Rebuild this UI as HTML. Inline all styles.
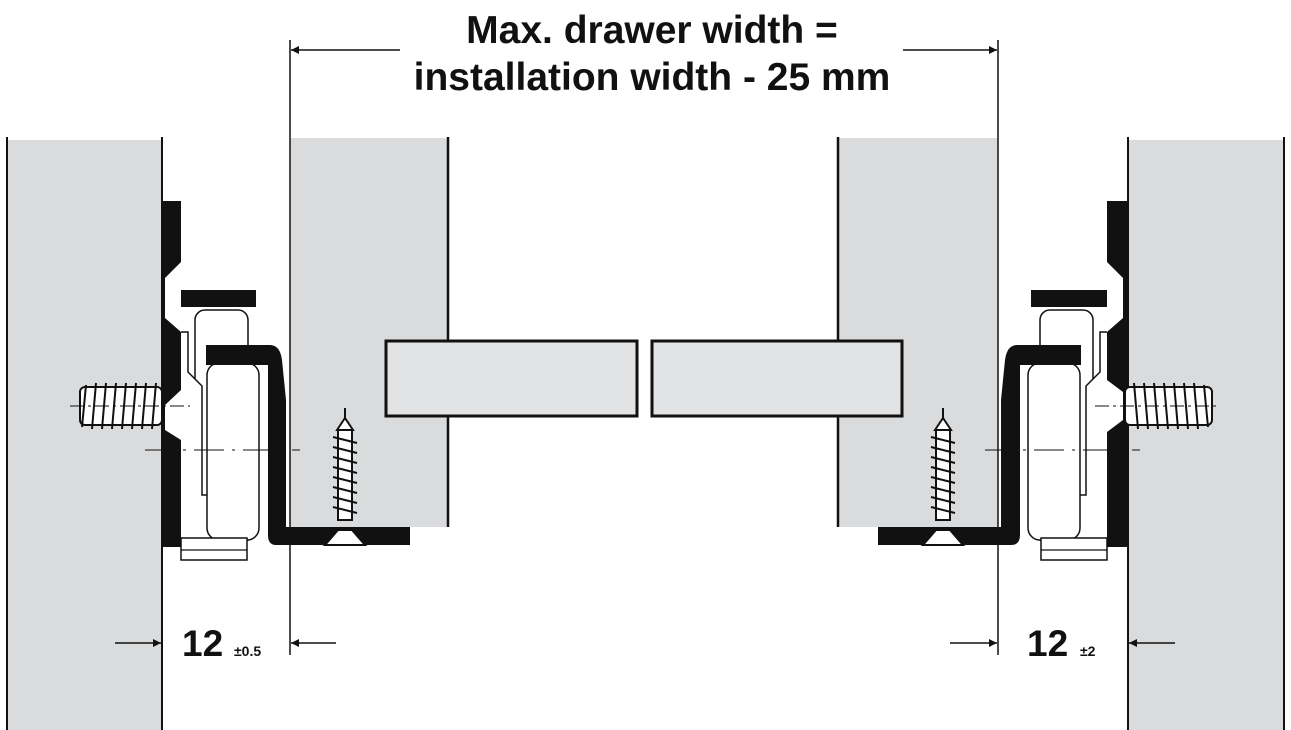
<!DOCTYPE html>
<html><head><meta charset="utf-8"><style>
html,body{margin:0;padding:0;background:#fff;width:1291px;height:730px;overflow:hidden}
svg{display:block}
text{font-family:"Liberation Sans",Arial,sans-serif;font-weight:bold;fill:#111}
</style></head><body>
<svg width="1291" height="730" viewBox="0 0 1291 730" xmlns="http://www.w3.org/2000/svg">
<defs>
<marker id="ar" viewBox="0 0 10 10" refX="10" refY="5" markerWidth="16" markerHeight="8" orient="auto" markerUnits="userSpaceOnUse"><path d="M0,0 L10,5 L0,10z" fill="#111"/></marker>
</defs>
<rect x="7" y="140" width="155" height="590" fill="#dadbdd"/>
<line x1="7" y1="137" x2="7" y2="730" stroke="#111" stroke-width="2"/>
<line x1="162" y1="137" x2="162" y2="730" stroke="#111" stroke-width="2"/>
<rect x="1128" y="140" width="156" height="590" fill="#dadbdd"/>
<line x1="1128" y1="137" x2="1128" y2="730" stroke="#111" stroke-width="2"/>
<line x1="1284" y1="137" x2="1284" y2="730" stroke="#111" stroke-width="2"/>
<rect x="290" y="138" width="158" height="389" fill="#dadbdd"/>
<rect x="838" y="138" width="160" height="389" fill="#dadbdd"/>
<line x1="290" y1="40" x2="290" y2="655" stroke="#111" stroke-width="1.5"/>
<line x1="448" y1="137" x2="448" y2="527" stroke="#111" stroke-width="2.5"/>
<line x1="838" y1="137" x2="838" y2="527" stroke="#111" stroke-width="2.5"/>
<line x1="998" y1="40" x2="998" y2="655" stroke="#111" stroke-width="1.5"/>
<rect x="386" y="341" width="251" height="75" fill="#e2e3e5" stroke="#111" stroke-width="3"/>
<rect x="652" y="341" width="250" height="75" fill="#e2e3e5" stroke="#111" stroke-width="3"/>
<!-- left hardware -->
<path d="M162,201 H181 V262 L165,278 V318 L181,332 V390 L165,405 V430 L181,440 V547 H162 Z" fill="#111"/>
<rect x="181" y="290" width="75" height="17" fill="#111"/>
<rect x="195" y="310" width="53" height="210" rx="10" fill="#fff" stroke="#111" stroke-width="1.5"/>
<path d="M181,332 H188 V372 L202,386 V495 H240 Q248,495 248,505 V540 H181" fill="#fff" stroke="#111" stroke-width="1.5"/>
<rect x="207" y="363" width="52" height="177" rx="12" fill="#fff" stroke="#111" stroke-width="1.5"/>
<rect x="181" y="538" width="66" height="22" fill="#fff" stroke="#111" stroke-width="1.5"/>
<line x1="181" y1="550" x2="247" y2="550" stroke="#111" stroke-width="1.2"/>
<path d="M206,345 H270 Q280,345 282,360 L286,400 V527 H410 V545 H276 Q268,545 268,535 V365 H206 Z" fill="#111"/>
<g stroke="#111" stroke-width="2" fill="#fff">
<rect x="80" y="387" width="82" height="38" rx="5"/>
<path d="M86,385 l-4,42 M96,383 l-4,46 M106,383 l-4,46 M116,383 l-4,46 M126,383 l-4,46 M136,383 l-4,46 M146,383 l-4,46 M156,383 l-4,46"/>
</g>
<line x1="70" y1="406" x2="190" y2="406" stroke="#111" stroke-width="1" stroke-dasharray="14,4,3,4"/>
<line x1="145" y1="450" x2="300" y2="450" stroke="#111" stroke-width="1" stroke-dasharray="30,8,3,8"/>
<g stroke="#111" stroke-width="2" fill="#fff">
<line x1="345" y1="408" x2="345" y2="430"/>
<path d="M337,430 L345,418 L353,430 Z"/>
<rect x="338" y="430" width="14" height="90"/>
<path d="M333,437 l24,6 M333,447 l24,6 M333,457 l24,6 M333,467 l24,6 M333,477 l24,6 M333,487 l24,6 M333,497 l24,6 M333,507 l24,6"/>
<path d="M325,545 L338,530 H352 L365,545 Z"/>
</g>
<!-- right hardware -->
<path d="M1128,201 H1107 V262 L1123,278 V318 L1107,332 V380 L1123,392 V420 L1107,432 V547 H1128 Z" fill="#111"/>
<rect x="1031" y="290" width="76" height="17" fill="#111"/>
<rect x="1040" y="310" width="53" height="210" rx="10" fill="#fff" stroke="#111" stroke-width="1.5"/>
<path d="M1107,332 H1100 V372 L1086,386 V495 H1048 Q1040,495 1040,505 V540 H1107" fill="#fff" stroke="#111" stroke-width="1.5"/>
<rect x="1028" y="363" width="52" height="177" rx="12" fill="#fff" stroke="#111" stroke-width="1.5"/>
<rect x="1041" y="538" width="66" height="22" fill="#fff" stroke="#111" stroke-width="1.5"/>
<line x1="1041" y1="550" x2="1107" y2="550" stroke="#111" stroke-width="1.2"/>
<path d="M1081,345 H1017 Q1007,345 1005,360 L1001,400 V527 H878 V545 H1011 Q1020,545 1020,535 V365 H1081 Z" fill="#111"/>
<g stroke="#111" stroke-width="2" fill="#fff">
<rect x="1125" y="387" width="87" height="38" rx="5"/>
<path d="M1134,383 l4,46 M1144,383 l4,46 M1154,383 l4,46 M1164,383 l4,46 M1174,383 l4,46 M1184,383 l4,46 M1194,383 l4,46 M1204,385 l4,42"/>
</g>
<line x1="1095" y1="406" x2="1220" y2="406" stroke="#111" stroke-width="1" stroke-dasharray="14,4,3,4"/>
<line x1="985" y1="450" x2="1140" y2="450" stroke="#111" stroke-width="1" stroke-dasharray="30,8,3,8"/>
<g stroke="#111" stroke-width="2" fill="#fff">
<line x1="943" y1="408" x2="943" y2="430"/>
<path d="M935,430 L943,418 L951,430 Z"/>
<rect x="936" y="430" width="14" height="90"/>
<path d="M931,437 l24,6 M931,447 l24,6 M931,457 l24,6 M931,467 l24,6 M931,477 l24,6 M931,487 l24,6 M931,497 l24,6 M931,507 l24,6"/>
<path d="M923,545 L936,530 H950 L963,545 Z"/>
</g>
<line x1="400" y1="50" x2="291" y2="50" stroke="#111" stroke-width="1.5" marker-end="url(#ar)"/>
<line x1="903" y1="50" x2="997" y2="50" stroke="#111" stroke-width="1.5" marker-end="url(#ar)"/>
<line x1="115" y1="643" x2="161" y2="643" stroke="#111" stroke-width="1.5" marker-end="url(#ar)"/>
<line x1="336" y1="643" x2="291" y2="643" stroke="#111" stroke-width="1.5" marker-end="url(#ar)"/>
<line x1="950" y1="643" x2="997" y2="643" stroke="#111" stroke-width="1.5" marker-end="url(#ar)"/>
<line x1="1175" y1="643" x2="1129" y2="643" stroke="#111" stroke-width="1.5" marker-end="url(#ar)"/>
<text x="652" y="43" font-size="39" text-anchor="middle">Max. drawer width =</text>
<text x="652" y="90" font-size="39" text-anchor="middle">installation width - 25 mm</text>
<text x="182" y="656" font-size="37">12</text>
<text x="234" y="656" font-size="14">±0.5</text>
<text x="1027" y="656" font-size="37">12</text>
<text x="1080" y="656" font-size="14">±2</text>
</svg>
</body></html>
